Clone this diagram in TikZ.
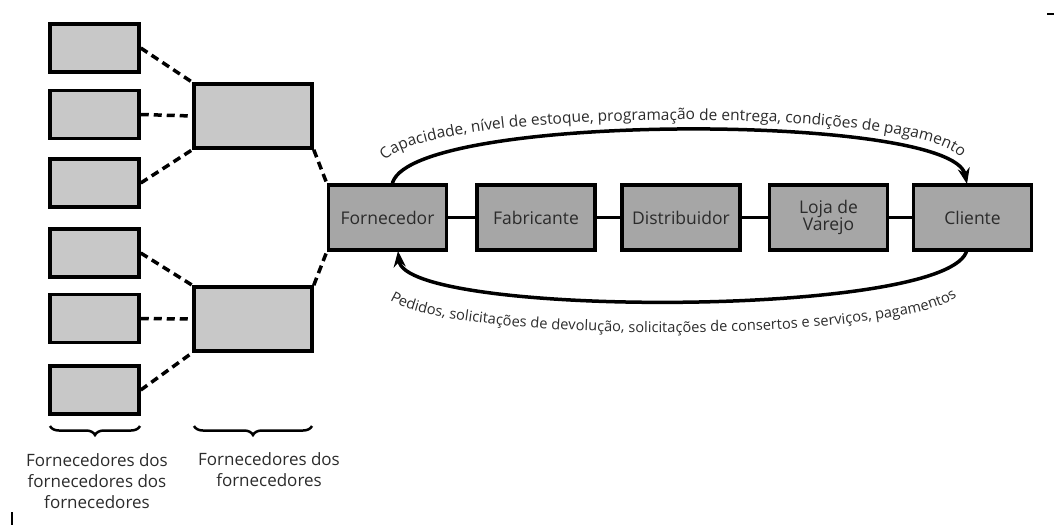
\documentclass[tikz,border=0pt]{standalone}
\usepackage{fontspec}
\setmainfont{Open Sans}
\usetikzlibrary{decorations.text,decorations.pathreplacing,arrows.meta}
\definecolor{lightbox}{HTML}{C8C8C8}
\definecolor{darkbox}{HTML}{A6A6A6}
\definecolor{txt}{HTML}{2B2B2B}
\begin{document}
\begin{tikzpicture}[x=1pt,y=-1pt,
  sbox/.style={draw=black,line width=3.5pt,fill=lightbox,inner sep=0pt,minimum width=89pt,minimum height=48pt},
  mbox/.style={draw=black,line width=3.5pt,fill=lightbox,inner sep=0pt,minimum width=118pt,minimum height=64pt},
  chain/.style={draw=black,line width=3.5pt,fill=darkbox,inner sep=0pt,minimum width=118pt,minimum height=65pt,
    text=txt,font=\fontsize{17.5}{19}\selectfont,align=center},
  dashlink/.style={line width=3.5pt,dash pattern=on 8pt off 5pt},
  link/.style={line width=3.5pt},
  flow/.style={line width=3.5pt,-{Stealth[length=16pt,width=12pt]}},
  brace/.style={decorate,decoration={brace,amplitude=9pt},line width=2.5pt},
  caption/.style={text=txt,font=\fontsize{17}{21}\selectfont,align=center}
]
\useasboundingbox (0,0) rectangle (1054,525);
% left column
\node[sbox] (a1) at (94.5,48) {};
\node[sbox] (a2) at (94.5,114.5) {};
\node[sbox] (a3) at (94.5,183) {};
\node[sbox] (a4) at (94.5,253) {};
\node[sbox] (a5) at (94.5,318.5) {};
\node[sbox] (a6) at (94.5,390) {};
% middle column
\node[mbox] (m1) at (253,116) {};
\node[mbox] (m2) at (253,319) {};
% chain
\node[chain] (forn) at (387.5,217.5) {Fornecedor};
\node[chain] (fab) at (536,217.5) {Fabricante};
\node[chain] (dist) at (681,217.5) {Distribuidor};
\node[chain] (loja) at (828.5,217.5) {Loja de\\[-2pt]Varejo};
\node[chain] (cli) at (972.5,217.5) {Cliente};
% dashed links
\draw[dashlink] (a1.east) -- (m1.north west);
\draw[dashlink] (a2.east) -- (m1.west);
\draw[dashlink] (a3.east) -- (m1.south west);
\draw[dashlink] (a4.east) -- (m2.north west);
\draw[dashlink] (a5.east) -- (m2.west);
\draw[dashlink] (a6.east) -- (m2.south west);
\draw[dashlink] (m1.south east) -- (forn.north west);
\draw[dashlink] (m2.north east) -- (forn.south west);
% chain links
\draw[link] (forn) -- (fab);
\draw[link] (fab) -- (dist);
\draw[link] (dist) -- (loja);
\draw[link] (loja) -- (cli);
% flows
\coordinate (t1) at (392,185.5);
\coordinate (t2) at (967,184);
\coordinate (b1) at (967,249.5);
\coordinate (b2) at (398,251);
\draw[flow] (t1) .. controls (400,112) and (952,112) .. (t2);
\draw[flow] (b1) .. controls (955,318) and (405,318) .. (b2);
\coordinate (tl) at (383,167);
\coordinate (tr) at (963,163);
\coordinate (bl) at (381,290);
\coordinate (br) at (965,287);
\path[decorate,decoration={text along path,text align=center,
  text={|\fontsize{15.5}{17}\selectfont\color{txt}|Capacidade, nível de estoque, programação de entrega, condições de pagamento}}]
  (tl) .. controls (392,105) and (955,105) .. (tr);
\path[decorate,decoration={text along path,text align=center,
  text={|\fontsize{14.6}{16}\selectfont\color{txt}|Pedidos, solicitações de devolução, solicitações de consertos e serviços, pagamentos}}]
  (bl) .. controls (392,347) and (952,347) .. (br);
% braces
\draw[brace] (140,426) -- (50,426);
\draw[brace] (312,426) -- (194,426);
\node[caption] (c1) at (97,481) {Fornecedores dos\\fornecedores dos\\fornecedores};
\node[caption] (c2) at (269,470) {Fornecedores dos\\fornecedores};
% scan marks
\draw[line width=2pt] (12,512) -- (12,525);
\draw[line width=1.5pt] (1047,14) -- (1054,14);
\end{tikzpicture}
\end{document}
